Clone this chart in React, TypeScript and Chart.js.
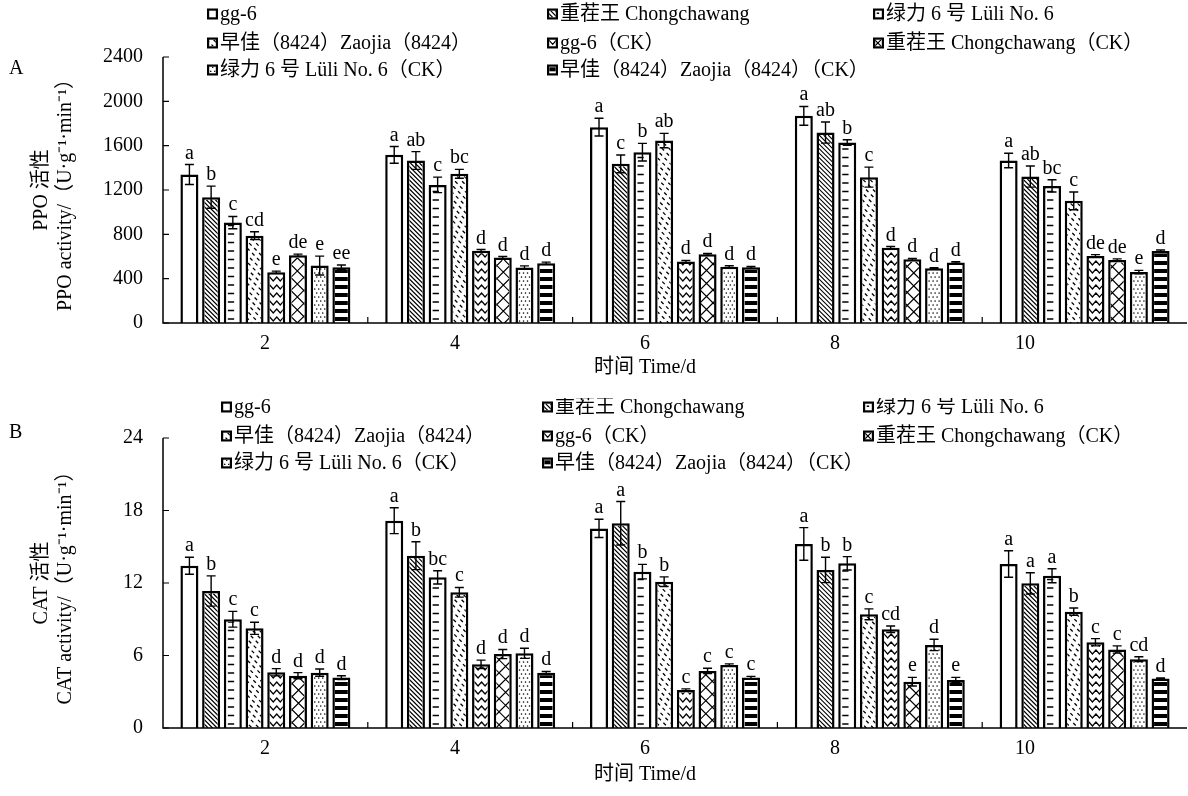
import React, { useEffect, useRef } from 'react';
import { Chart, registerables } from 'chart.js';

Chart.register(...registerables);

const FONT = '"Liberation Serif", "Noto Sans CJK SC", serif';
Chart.defaults.font.family = FONT;
Chart.defaults.color = '#000';

// ---------- data ----------
const categories = ['2', '4', '6', '8', '10'];

const seriesNames = [
  'gg-6',
  '重茬王 Chongchawang',
  '绿力 6 号 Lüli No. 6',
  '早佳（8424）Zaojia（8424）',
  'gg-6（CK）',
  '重茬王 Chongchawang（CK）',
  '绿力 6 号 Lüli No. 6（CK）',
  '早佳（8424）Zaojia（8424）（CK）',
];

const patternKinds = ['none', 'diag', 'hdash', 'dashdiag', 'zigzag', 'cross', 'dots', 'stripes'];

// PPO (panel A), one array per series, values at days 2,4,6,8,10
const ppoMeans = [
  [1340, 1517, 1767, 1869, 1466],
  [1135, 1466, 1436, 1718, 1321],
  [906, 1246, 1541, 1628, 1237],
  [788, 1346, 1646, 1316, 1102],
  [458, 653, 554, 680, 605],
  [611, 590, 620, 575, 569],
  [518, 500, 508, 494, 460],
  [503, 539, 503, 545, 650],
];
const ppoErrors = [
  [90, 75, 80, 85, 65],
  [100, 80, 80, 95, 95],
  [55, 70, 80, 25, 55],
  [35, 40, 65, 90, 80],
  [10, 10, 10, 10, 12],
  [10, 10, 8, 8, 10],
  [85, 15, 8, 5, 15],
  [20, 10, 8, 8, 8],
];
const ppoLetters = [
  ['a', 'a', 'a', 'a', 'a'],
  ['b', 'ab', 'c', 'ab', 'ab'],
  ['c', 'c', 'b', 'b', 'bc'],
  ['cd', 'bc', 'ab', 'c', 'c'],
  ['e', 'd', 'd', 'd', 'de'],
  ['de', 'd', 'd', 'd', 'de'],
  ['e', 'd', 'd', 'd', 'e'],
  ['ee', 'd', 'd', 'd', 'd'],
];
const ppoAxisMax = 2400;
const ppoAxisStep = 400;

// CAT (panel B)
const catMeans = [
  [13.43, 17.16, 16.52, 15.23, 13.57],
  [11.34, 14.26, 16.94, 13.08, 11.97],
  [9.0, 12.47, 12.94, 13.63, 12.6],
  [8.25, 11.23, 12.11, 9.41, 9.63],
  [4.61, 5.27, 3.14, 8.17, 7.1],
  [4.33, 6.12, 4.72, 3.83, 6.5],
  [4.58, 6.18, 5.21, 6.87, 5.7],
  [4.17, 4.58, 4.17, 3.97, 4.1],
];
const catErrors = [
  [0.7, 1.07, 0.75, 1.35, 1.1],
  [1.25, 1.15, 1.8, 1.05, 0.88],
  [0.65, 0.55, 0.6, 0.55, 0.58],
  [0.5, 0.4, 0.4, 0.45, 0.3],
  [0.3, 0.35, 0.1, 0.27, 0.3],
  [0.25, 0.38, 0.22, 0.36, 0.3],
  [0.3, 0.42, 0.1, 0.47, 0.2],
  [0.15, 0.1, 0.1, 0.22, 0.05],
];
const catLetters = [
  ['a', 'a', 'a', 'a', 'a'],
  ['b', 'b', 'a', 'b', 'a'],
  ['c', 'bc', 'b', 'b', 'a'],
  ['c', 'c', 'b', 'c', 'b'],
  ['d', 'd', 'c', 'cd', 'c'],
  ['d', 'd', 'c', 'e', 'c'],
  ['d', 'd', 'c', 'd', 'cd'],
  ['d', 'd', 'c', 'e', 'd'],
];
const catAxisMax = 24;
const catAxisStep = 6;

// ---------- drawing helpers ----------
function drawPattern(ctx: CanvasRenderingContext2D, kind: string, x: number, y: number, w: number, h: number) {
  if (w <= 0 || h <= 0 || kind === 'none') return;
  ctx.save();
  ctx.beginPath();
  ctx.rect(x, y, w, h);
  ctx.clip();
  ctx.strokeStyle = '#000';
  ctx.fillStyle = '#000';
  const yb = y + h;
  if (kind === 'diag') {
    ctx.lineWidth = 1.2;
    ctx.beginPath();
    for (let k = -h - 10; k < w + 10; k += 4.5) {
      ctx.moveTo(x + k, y);
      ctx.lineTo(x + k + h, yb);
    }
    ctx.stroke();
  } else if (kind === 'dashdiag') {
    ctx.lineWidth = 1.3;
    ctx.setLineDash([3.5, 3.5]);
    ctx.beginPath();
    for (let k = -h - 10; k < w + 10; k += 7) {
      ctx.moveTo(x + k, y);
      ctx.lineTo(x + k + h, yb);
    }
    ctx.stroke();
  } else if (kind === 'hdash') {
    ctx.lineWidth = 1.5;
    ctx.beginPath();
    for (let yy = yb - 4; yy > y; yy -= 8.5) {
      ctx.moveTo(x + 1.5, yy);
      ctx.lineTo(x + w * 0.6, yy);
    }
    ctx.stroke();
  } else if (kind === 'zigzag') {
    ctx.lineWidth = 1.2;
    ctx.beginPath();
    for (let yy = yb - 2; yy > y - 6; yy -= 8) {
      let up = false;
      ctx.moveTo(x - 3.5, yy);
      for (let xx = x - 3.5; xx < x + w + 7; xx += 3.5) {
        ctx.lineTo(xx, up ? yy - 4 : yy);
        up = !up;
      }
    }
    ctx.stroke();
  } else if (kind === 'cross') {
    ctx.lineWidth = 1.2;
    ctx.beginPath();
    for (let k = -h - 20; k < w + 20; k += 13) {
      ctx.moveTo(x + k, y);
      ctx.lineTo(x + k + h, yb);
      ctx.moveTo(x + k + h, y);
      ctx.lineTo(x + k, yb);
    }
    ctx.stroke();
  } else if (kind === 'dots') {
    let m = 0;
    for (let yy = yb - 2; yy > y; yy -= 4) {
      for (let xx = x + 1.5 + (m % 2) * 2; xx < x + w; xx += 4) {
        ctx.fillRect(xx - 0.6, yy - 0.6, 1.3, 1.3);
      }
      m++;
    }
  } else if (kind === 'stripes') {
    for (let yy = yb - 2; yy > y - 8; yy -= 8) {
      ctx.fillRect(x, yy - 4, w, 4);
    }
  }
  ctx.restore();
}

type PanelCfg = {
  means: number[][];
  errors: number[][];
  letters: string[][];
  axisMax: number;
  axisStep: number;
  top: number;
  bottom: number;
  height: number;
  label: string;
  labelY: number;
  yTitle: string[];
  xTitle: string;
  xTitleY: number;
  legendCols: number[];
  legendRows: number[];
};

// layout of the category labels (they sit on a slightly narrower pitch than the bar groups in the source figure)
const xLabelFirst = 102;
const xLabelPitch = 190;

function makeDecorPlugin(cfg: PanelCfg) {
  return {
    id: 'panelDecor',
    afterDatasetsDraw(chart: any) {
      const ctx: CanvasRenderingContext2D = chart.ctx;
      const { left, right, top, bottom } = chart.chartArea;
      const ys = chart.scales.y;
      const bw = 2.5;
      // patterns inside bars
      chart.data.datasets.forEach((_ds: any, i: number) => {
        const meta = chart.getDatasetMeta(i);
        meta.data.forEach((bar: any) => {
          const x0 = bar.x - bar.width / 2 + bw;
          const x1 = bar.x + bar.width / 2 - bw;
          const y0 = bar.y + bw;
          const y1 = bar.base;
          drawPattern(ctx, patternKinds[i], x0, y0, x1 - x0, y1 - y0);
        });
      });
      // axes
      ctx.save();
      ctx.strokeStyle = '#000';
      ctx.lineWidth = 1.5;
      ctx.beginPath();
      ctx.moveTo(left, top);
      ctx.lineTo(left, bottom);
      ctx.lineTo(right, bottom);
      ctx.stroke();
      ctx.lineWidth = 1.2;
      ctx.beginPath();
      ys.ticks.forEach((t: any) => {
        const py = ys.getPixelForValue(t.value);
        ctx.moveTo(left, py);
        ctx.lineTo(left + 6, py);
      });
      const n = categories.length;
      const cw = (right - left) / n;
      for (let k = 1; k < n; k++) {
        const px = left + k * cw;
        ctx.moveTo(px, bottom);
        ctx.lineTo(px, bottom - 6);
      }
      ctx.stroke();
      // error bars and letters
      ctx.lineWidth = 1.4;
      ctx.font = `20px ${FONT}`;
      ctx.fillStyle = '#000';
      ctx.textAlign = 'center';
      ctx.textBaseline = 'alphabetic';
      chart.data.datasets.forEach((_ds: any, i: number) => {
        const meta = chart.getDatasetMeta(i);
        meta.data.forEach((bar: any, j: number) => {
          const m = cfg.means[i][j];
          const e = cfg.errors[i][j];
          const yt = ys.getPixelForValue(m + e);
          const yb2 = ys.getPixelForValue(m - e);
          ctx.beginPath();
          ctx.moveTo(bar.x, yt);
          ctx.lineTo(bar.x, yb2);
          ctx.moveTo(bar.x - 4.5, yt);
          ctx.lineTo(bar.x + 4.5, yt);
          ctx.moveTo(bar.x - 4.5, yb2);
          ctx.lineTo(bar.x + 4.5, yb2);
          ctx.stroke();
          ctx.fillText(cfg.letters[i][j], bar.x, yt - 6);
        });
      });
      ctx.restore();
    },
    afterDraw(chart: any) {
      const ctx: CanvasRenderingContext2D = chart.ctx;
      const { left, top, bottom } = chart.chartArea;
      ctx.save();
      ctx.fillStyle = '#000';
      ctx.font = `20px ${FONT}`;
      // panel label
      ctx.textAlign = 'left';
      ctx.textBaseline = 'middle';
      ctx.fillText(cfg.label, 9, cfg.labelY);
      // y title
      const yc = (top + bottom) / 2;
      const xs = [42, 66];
      cfg.yTitle.forEach((line, k) => {
        ctx.save();
        ctx.translate(xs[k], yc);
        ctx.rotate(-Math.PI / 2);
        ctx.textAlign = 'center';
        ctx.textBaseline = 'middle';
        ctx.fillText(line, 0, 0);
        ctx.restore();
      });
      // category labels
      ctx.textAlign = 'center';
      ctx.textBaseline = 'middle';
      categories.forEach((c, k) => {
        ctx.fillText(c, left + xLabelFirst + k * xLabelPitch, bottom + 21);
      });
      // x title
      ctx.fillText(cfg.xTitle, left + xLabelFirst + 2 * xLabelPitch, cfg.xTitleY);
      // legend
      ctx.textAlign = 'left';
      seriesNames.forEach((name, i) => {
        const col = i % 3;
        const row = Math.floor(i / 3);
        const sx = cfg.legendCols[col];
        const cy = cfg.legendRows[row];
        ctx.fillStyle = '#000';
        ctx.fillRect(sx, cy - 5.5, 11, 11);
        ctx.fillStyle = '#fff';
        ctx.fillRect(sx + 2.2, cy - 3.3, 6.6, 6.6);
        drawPattern(ctx, patternKinds[i], sx + 2.2, cy - 3.3, 6.6, 6.6);
        ctx.fillStyle = '#000';
        ctx.fillText(name, sx + 13, cy + 1);
      });
      ctx.restore();
    },
  };
}

function Panel({ cfg }: { cfg: PanelCfg }) {
  const ref = useRef<HTMLCanvasElement | null>(null);
  useEffect(() => {
    if (!ref.current) return;
    const chart = new Chart(ref.current, {
      type: 'bar',
      data: {
        labels: categories,
        datasets: seriesNames.map((name, i) => ({
          label: name,
          data: cfg.means[i],
          backgroundColor: '#fff',
          borderColor: '#000',
          borderWidth: 2.5,
          categoryPercentage: 0.848,
          barPercentage: 0.83,
        })),
      },
      options: {
        responsive: false,
        animation: false,
        layout: { padding: { top: cfg.top, right: 1, left: 0, bottom: 0 } },
        plugins: {
          legend: { display: false },
          tooltip: { enabled: false },
          title: { display: false },
        },
        scales: {
          x: {
            grid: { display: false, drawTicks: false },
            border: { display: false },
            ticks: { display: false },
            afterFit: (scale: any) => {
              scale.height = cfg.height - cfg.bottom;
            },
          },
          y: {
            min: 0,
            max: cfg.axisMax,
            grid: { display: false, drawTicks: false },
            border: { display: false },
            ticks: {
              stepSize: cfg.axisStep,
              font: { size: 20, family: FONT },
              color: '#000',
              padding: 20,
              callback: (v: any) => String(v),
            },
            afterFit: (scale: any) => {
              scale.width = 163;
            },
          },
        },
      } as any,
      plugins: [makeDecorPlugin(cfg)],
    });
    return () => chart.destroy();
  }, []);
  return <canvas ref={ref} width={1188} height={cfg.height} style={{ display: 'block', width: 1188, height: cfg.height }} />;
}

const panelA: PanelCfg = {
  means: ppoMeans,
  errors: ppoErrors,
  letters: ppoLetters,
  axisMax: ppoAxisMax,
  axisStep: ppoAxisStep,
  top: 57,
  bottom: 323,
  height: 398,
  label: 'A',
  labelY: 69,
  yTitle: ['PPO 活性', 'PPO activity/（U·g⁻¹·min⁻¹）'],
  xTitle: '时间 Time/d',
  xTitleY: 368,
  legendCols: [207, 547, 873],
  legendRows: [14, 43, 70],
};

const panelB: PanelCfg = {
  means: catMeans,
  errors: catErrors,
  letters: catLetters,
  axisMax: catAxisMax,
  axisStep: catAxisStep,
  top: 40,
  bottom: 330,
  height: 398,
  label: 'B',
  labelY: 35,
  yTitle: ['CAT 活性', 'CAT activity/（U·g⁻¹·min⁻¹）'],
  xTitle: '时间 Time/d',
  xTitleY: 377,
  legendCols: [221, 542, 863],
  legendRows: [9, 38, 65],
};

export default function App() {
  return (
    <div style={{ position: 'absolute', left: 0, top: 0, width: 1188, height: 796, background: '#fff' }}>
      <Panel cfg={panelA} />
      <Panel cfg={panelB} />
    </div>
  );
}
